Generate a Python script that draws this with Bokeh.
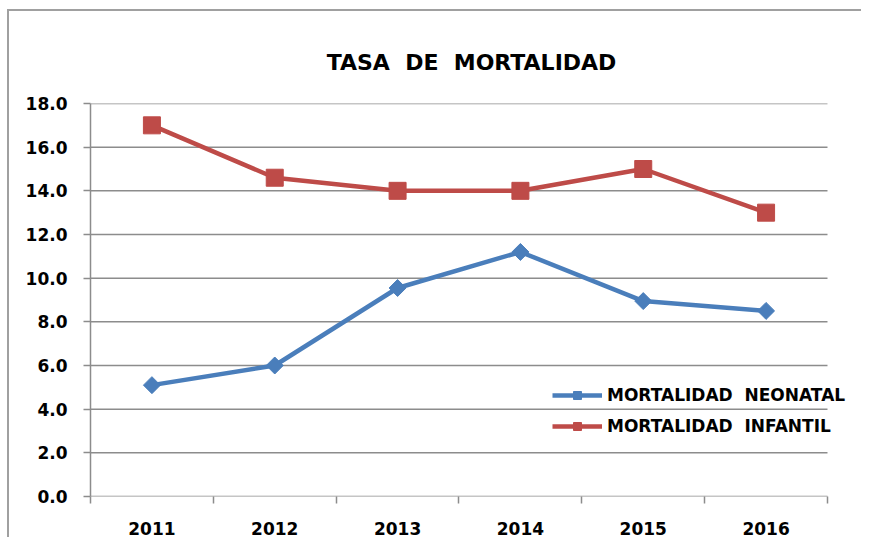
import math
from bokeh.plotting import figure
from bokeh.models import FixedTicker, Legend, LegendItem, Title, Range1d
from bokeh.embed import file_html
from bokeh.resources import INLINE

years = ["2011", "2012", "2013", "2014", "2015", "2016"]
neonatal = [5.1, 6.0, 9.55, 11.2, 8.95, 8.5]
infantil = [17.0, 14.6, 14.0, 14.0, 15.0, 13.0]
y_ticks = [0, 2, 4, 6, 8, 10, 12, 14, 16, 18]
title_text = "TASA\u00a0\u00a0DE\u00a0\u00a0MORTALIDAD"
label_neo = "MORTALIDAD\u00a0\u00a0NEONATAL"
label_inf = "MORTALIDAD\u00a0\u00a0INFANTIL"

FONT = "DejaVu Sans"
GRID = "#8c8c8c"
BLUE = "#4a7ebb"
RED = "#be4b48"
FRAME_BORDER = "#a0a0a0"

n = len(years)
xs = list(range(1, n + 1))
x_lo, x_hi = 0.5, n + 0.5
# frame extends a bit past the last category so the legend text is not clipped
x_extra = 25 / 122.8

p = figure(width=861, height=537, output_backend="svg", toolbar_location=None,
           x_range=Range1d(x_lo, x_hi + x_extra), y_range=Range1d(0, 18),
           min_border_left=90, min_border_right=9, min_border_top=103, min_border_bottom=38)
p.outline_line_color = None
p.background_fill_color = "white"
p.border_fill_alpha = 0
p.styles = {
    "background-color": "white",
    "background-image": f"linear-gradient({FRAME_BORDER}, {FRAME_BORDER}), linear-gradient({FRAME_BORDER}, {FRAME_BORDER})",
    "background-size": "100% 2px, 2px 100%",
    "background-position": "7px 9px, 7px 9px",
    "background-repeat": "no-repeat",
}

t = Title(text=title_text, text_font=FONT, text_font_size="22px", text_font_style="bold",
          align="center", text_color="black", standoff=58, offset=4)
p.add_layout(t, "above")

# x axis: labels at category centres, ticks at category boundaries
p.xaxis.ticker = FixedTicker(ticks=xs, minor_ticks=[x - 0.5 for x in xs] + [n + 0.5])
p.xaxis.major_label_overrides = {x: y for x, y in zip(xs, years)}
p.xaxis.major_tick_out = 0
p.xaxis.major_tick_in = 0
p.xaxis.minor_tick_out = 7
p.xaxis.minor_tick_in = 0
p.xaxis.minor_tick_line_color = GRID
p.xaxis.minor_tick_line_width = 1.5
p.xaxis.axis_line_color = None
p.xaxis.major_label_text_font = FONT
p.xaxis.major_label_text_font_size = "17px"
p.xaxis.major_label_text_font_style = "bold"
p.xaxis.major_label_text_color = "black"
p.xaxis.major_label_standoff = 18

p.yaxis.ticker = FixedTicker(ticks=y_ticks, minor_ticks=[])
p.yaxis.major_label_overrides = {v: f"{v:.1f}" for v in y_ticks}
p.yaxis.major_tick_out = 7
p.yaxis.major_tick_in = 0
p.yaxis.major_tick_line_color = GRID
p.yaxis.major_tick_line_width = 1.5
p.yaxis.axis_line_color = GRID
p.yaxis.axis_line_width = 1.5
p.yaxis.major_label_text_font = FONT
p.yaxis.major_label_text_font_size = "17px"
p.yaxis.major_label_text_font_style = "bold"
p.yaxis.major_label_text_color = "black"
p.yaxis.major_label_standoff = 16

p.xgrid.grid_line_color = None
p.ygrid.grid_line_color = None
# horizontal gridlines (incl. the baseline) spanning only the category area
p.segment(x0=[x_lo] * len(y_ticks), x1=[x_hi] * len(y_ticks), y0=y_ticks, y1=y_ticks,
          line_color=GRID, line_width=1.5)

l1 = p.line(xs, neonatal, line_color=BLUE, line_width=4.5)
m1 = p.scatter(xs, neonatal, marker="square", angle=math.pi / 4, size=12,
               fill_color=BLUE, line_color=BLUE)
l2 = p.line(xs, infantil, line_color=RED, line_width=4.5)
m2 = p.scatter(xs, infantil, marker="square", size=17, fill_color=RED, line_color=RED)

legend = Legend(items=[LegendItem(label=label_neo, renderers=[l1, m1]),
                       LegendItem(label=label_inf, renderers=[l2, m2])],
                location=(462, 60), padding=0, margin=0, spacing=11,
                glyph_width=50, glyph_height=20, label_height=20, label_standoff=5,
                label_text_font=FONT, label_text_font_size="17px",
                label_text_font_style="bold", label_text_color="black",
                border_line_color=None, background_fill_alpha=0)
p.add_layout(legend, "center")

open("out.html", "w").write(file_html(p, INLINE))
